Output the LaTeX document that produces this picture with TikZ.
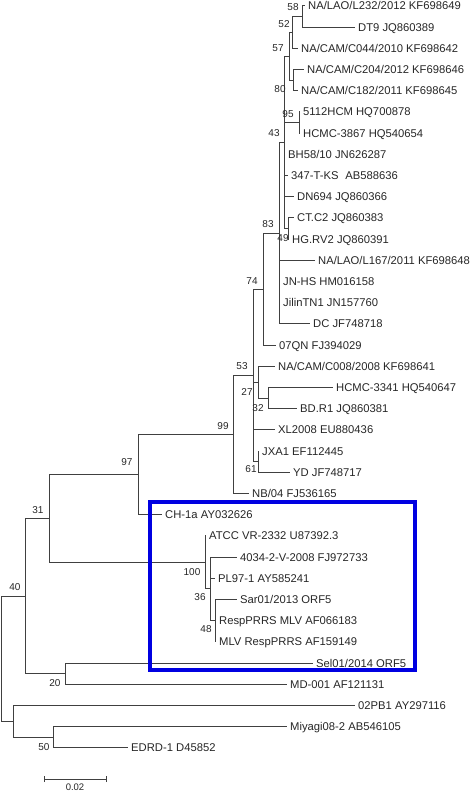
\documentclass[tikz,border=0pt]{standalone}
\usepackage{fontspec}
\setmainfont{Liberation Sans}
\definecolor{hlblue}{RGB}{0,0,225}
\begin{document}
\begin{tikzpicture}[x=1pt,y=-1pt,
  br/.style={line width=0.9pt, draw=black!75},
  lf/.style={anchor=west, inner sep=0pt, text height=8.1pt, text depth=0pt, font=\fontsize{11.25}{12}\selectfont, text=black!85, xshift=3pt},
  bs/.style={inner sep=0pt, text height=7.2pt, text depth=0pt, font=\fontsize{10}{11}\selectfont, text=black!85},
  hl/.style={line width=4pt, draw=hlblue},
]
\useasboundingbox (0,0) rectangle (473,792);
% internal nodes
\coordinate (root) at (1,658.65);
\coordinate (n40) at (25,596.0);
\coordinate (nY) at (13,721.3);
\coordinate (n50) at (53,737.2);
\coordinate (n31) at (49,518.4);
\coordinate (n20) at (65,673.6);
\coordinate (n97) at (138,474.5);
\coordinate (n100) at (205,562.3);
\coordinate (n36) at (210,588.8);
\coordinate (n48) at (215,620.6);
\coordinate (n99) at (233,434.35);
\coordinate (n53) at (253,375.3);
\coordinate (n74) at (263,289.0);
\coordinate (n27) at (258,382.1);
\coordinate (n32) at (268,398.0);
\coordinate (n61) at (258,461.6);
\coordinate (n83) at (279,233.05);
\coordinate (n43) at (284,142.3);
\coordinate (n57) at (289,56.15);
\coordinate (n52) at (292,32.3);
\coordinate (n80) at (293,80.0);
\coordinate (n58) at (302,16.4);
\coordinate (n95) at (299,122.4);
\coordinate (n49) at (288,228.4);
% leaf tips
\coordinate (t0) at (305,5.8);
\coordinate (t1) at (355,27.0);
\coordinate (t2) at (298,48.2);
\coordinate (t3) at (304,69.4);
\coordinate (t4) at (298,90.6);
\coordinate (t5) at (300,111.8);
\coordinate (t6) at (300,133.0);
\coordinate (t7) at (285,154.2);
\coordinate (t8) at (288,175.4);
\coordinate (t9) at (294,196.6);
\coordinate (t10) at (294,217.8);
\coordinate (t11) at (289,239.0);
\coordinate (t12) at (315,260.2);
\coordinate (t13) at (280,281.4);
\coordinate (t14) at (280,302.6);
\coordinate (t15) at (310,323.8);
\coordinate (t16) at (276,345.0);
\coordinate (t17) at (275,366.2);
\coordinate (t18) at (333,387.4);
\coordinate (t19) at (297,408.6);
\coordinate (t20) at (275,429.8);
\coordinate (t21) at (259,451.0);
\coordinate (t22) at (290,472.2);
\coordinate (t23) at (249,493.4);
\coordinate (t24) at (162,514.6);
\coordinate (t25) at (206,535.8);
\coordinate (t26) at (237,557.0);
\coordinate (t27) at (215,578.2);
\coordinate (t28) at (237,599.4);
\coordinate (t29) at (216,620.6);
\coordinate (t30) at (216,641.8);
\coordinate (t31) at (313,663.0);
\coordinate (t32) at (287,684.2);
\coordinate (t33) at (355,705.4);
\coordinate (t34) at (287,726.6);
\coordinate (t35) at (128,747.8);
% branches
\foreach \p/\c in {root/n40, root/nY, n40/n31, n40/n20, n31/n97, n31/n100,
  n97/n99, n97/t24, n99/n53, n99/t23, n53/n74, n53/n27, n53/t20, n53/n61,
  n74/n83, n74/t16, n83/n43, n83/t12, n83/t13, n83/t14, n83/t15,
  n43/n57, n43/n95, n43/t7, n43/t8, n43/t9, n43/n49,
  n57/n52, n57/n80, n52/n58, n52/t2, n58/t0, n58/t1, n80/t3, n80/t4,
  n95/t5, n95/t6, n49/t10, n49/t11, n27/t17, n27/n32, n32/t18, n32/t19,
  n61/t21, n61/t22, n100/t25, n100/n36, n36/t26, n36/t27, n36/n48,
  n48/t28, n48/t29, n48/t30, n20/t31, n20/t32, nY/t33, nY/n50, n50/t34, n50/t35}
  \draw[br] (\p) |- (\c);
% leaf labels
\node[lf] (L0) at (t0) {NA/LAO/L232/2012 KF698649};
\node[lf] (L1) at (t1) {DT9 JQ860389};
\node[lf] (L2) at (t2) {NA/CAM/C044/2010 KF698642};
\node[lf] (L3) at (t3) {NA/CAM/C204/2012 KF698646};
\node[lf] (L4) at (t4) {NA/CAM/C182/2011 KF698645};
\node[lf] (L5) at (t5) {5112HCM HQ700878};
\node[lf] (L6) at (t6) {HCMC-3867 HQ540654};
\node[lf] (L7) at (t7) {BH58/10 JN626287};
\node[lf] (L8) at (t8) {347-T-KS\hspace{0.6em}AB588636};
\node[lf] (L9) at (t9) {DN694 JQ860366};
\node[lf] (L10) at (t10) {CT.C2 JQ860383};
\node[lf] (L11) at (t11) {HG.RV2 JQ860391};
\node[lf] (L12) at (t12) {NA/LAO/L167/2011 KF698648};
\node[lf] (L13) at (t13) {JN-HS HM016158};
\node[lf] (L14) at (t14) {JilinTN1 JN157760};
\node[lf] (L15) at (t15) {DC JF748718};
\node[lf] (L16) at (t16) {07QN FJ394029};
\node[lf] (L17) at (t17) {NA/CAM/C008/2008 KF698641};
\node[lf] (L18) at (t18) {HCMC-3341 HQ540647};
\node[lf] (L19) at (t19) {BD.R1 JQ860381};
\node[lf] (L20) at (t20) {XL2008 EU880436};
\node[lf] (L21) at (t21) {JXA1 EF112445};
\node[lf] (L22) at (t22) {YD JF748717};
\node[lf] (L23) at (t23) {NB/04 FJ536165};
\node[lf] (L24) at (t24) {CH-1a AY032626};
\node[lf] (L25) at (t25) {ATCC VR-2332 U87392.3};
\node[lf] (L26) at (t26) {4034-2-V-2008 FJ972733};
\node[lf] (L27) at (t27) {PL97-1 AY585241};
\node[lf] (L28) at (t28) {Sar01/2013 ORF5};
\node[lf] (L29) at (t29) {RespPRRS MLV AF066183};
\node[lf] (L30) at (t30) {MLV RespPRRS AF159149};
\node[lf] (L31) at (t31) {Sel01/2014 ORF5};
\node[lf] (L32) at (t32) {MD-001 AF121131};
\node[lf] (L33) at (t33) {02PB1 AY297116};
\node[lf] (L34) at (t34) {Miyagi08-2 AB546105};
\node[lf] (L35) at (t35) {EDRD-1 D45852};
% bootstrap values
\node[bs] (b58) at (293,7) {58};
\node[bs] (b52) at (284,24) {52};
\node[bs] (b57) at (278,48) {57};
\node[bs] (b80) at (280,89) {80};
\node[bs] (b95) at (288,114) {95};
\node[bs] (b43) at (274,133) {43};
\node[bs] (b83) at (268,224) {83};
\node[bs] (b49) at (283,238) {49};
\node[bs] (b74) at (252,281) {74};
\node[bs] (b53) at (242,366) {53};
\node[bs] (b27) at (247,392) {27};
\node[bs] (b32) at (258,408) {32};
\node[bs] (b99) at (223,426) {99};
\node[bs] (b61) at (251,469) {61};
\node[bs] (b97) at (127,462) {97};
\node[bs] (b31) at (38,510) {31};
\node[bs] (b100) at (192,572) {100};
\node[bs] (b36) at (200,597) {36};
\node[bs] (b48) at (206,629) {48};
\node[bs] (b40) at (15,587) {40};
\node[bs] (b20) at (55,683) {20};
\node[bs] (b50) at (44,747) {50};
% highlight box
\draw[hl] (150,501.5) rectangle (415,669.5);
% scale bar
\coordinate (sbL) at (44,779);
\coordinate (sbR) at (106,779);
\draw[br] (sbL) -- (sbR);
\draw[br] ([yshift=-3pt]sbL) -- ([yshift=3pt]sbL);
\draw[br] ([yshift=-3pt]sbR) -- ([yshift=3pt]sbR);
\node[bs, font=\fontsize{9.5}{10}\selectfont] (sbT) at (75,786.5) {0.02};
\end{tikzpicture}
\end{document}
